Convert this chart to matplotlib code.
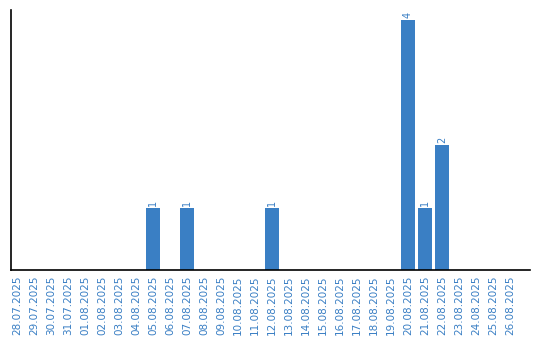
import matplotlib
matplotlib.use("Agg")
import matplotlib.pyplot as plt

dates = ["28.07.2025", "29.07.2025", "30.07.2025", "31.07.2025", "01.08.2025",
         "02.08.2025", "03.08.2025", "04.08.2025", "05.08.2025", "06.08.2025",
         "07.08.2025", "08.08.2025", "09.08.2025", "10.08.2025", "11.08.2025",
         "12.08.2025", "13.08.2025", "14.08.2025", "15.08.2025", "16.08.2025",
         "17.08.2025", "18.08.2025", "19.08.2025", "20.08.2025", "21.08.2025",
         "22.08.2025", "23.08.2025", "24.08.2025", "25.08.2025", "26.08.2025"]
counts = [0, 0, 0, 0, 0, 0, 0, 0, 1, 0,
          1, 0, 0, 0, 0, 1, 0, 0, 0, 0,
          0, 0, 0, 4, 1, 2, 0, 0, 0, 0]

color = "#3a7fc4"
fig = plt.figure(figsize=(5.4, 3.4), dpi=100)
ax = fig.add_axes([11/540, 1 - 270/340, 519/540, 260/340])
x = list(range(len(dates)))
ax.bar(x, counts, width=0.82, color=color)
for xi, v in zip(x, counts):
    if v > 0:
        ax.text(xi, v + 0.03, str(v), rotation=90, ha="center", va="bottom",
                fontsize=7, color=color)
ax.set_xlim(-0.35, 30.18)
ax.set_ylim(0, 4.16)
ax.set_xticks(x)
ax.set_xticklabels(dates, rotation=90, fontsize=7.5, color=color)
ax.tick_params(axis="x", length=0, pad=4)
ax.set_yticks([])
ax.spines["top"].set_visible(False)
ax.spines["right"].set_visible(False)
ax.spines["left"].set_linewidth(1.2)
ax.spines["bottom"].set_linewidth(1.2)
fig.savefig("out.png", dpi=100)
